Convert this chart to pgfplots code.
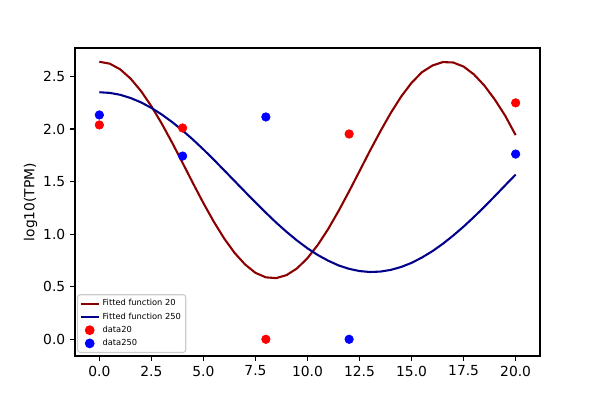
\documentclass[border=0pt]{standalone}
\usepackage{fontspec}
\setmainfont{DejaVu Sans}
\usepackage{pgfplots}
\pgfplotsset{compat=1.18}
\definecolor{fitred}{HTML}{8B0000}
\definecolor{fitblue}{HTML}{00008B}
\pgfplotsset{
  lineleg/.style={legend image code/.code={\draw[##1, draw opacity=1] (0bp,0bp) -- (13bp,0bp);}},
  dotleg/.style={legend image code/.code={\draw[##1, opacity=1, fill opacity=1, draw opacity=1] plot coordinates {(6.5bp,0bp)};}},
}
\begin{document}
\begin{tikzpicture}
\path[use as bounding box] (0,0) rectangle (432bp,288bp);
\begin{axis}[
  at={(54bp,31.68bp)}, anchor=south west,
  scale only axis, width=334.8bp, height=221.76bp,
  xmin=-1.17, xmax=21.17, ymin=-0.159, ymax=2.771,
  xtick={0,2.5,5,7.5,10,12.5,15,17.5,20},
  ytick={0,0.5,1,1.5,2,2.5},
  xticklabel style={/pgf/number format/.cd,fixed,fixed zerofill,precision=1},
  yticklabel style={/pgf/number format/.cd,fixed,fixed zerofill,precision=1},
  /pgf/number format/assume math mode=true,
  tick label style={font=\fontsize{10}{12}\selectfont},
  tick align=outside, xtick pos=lower, ytick pos=left,
  major tick length=3.5bp,
  every tick/.style={line width=0.8bp, black},
  axis line style={line width=0.8bp},
  ylabel={log10(TPM)},
  ylabel style={at={([xshift=-32bp]axis description cs:0,0.5)}, anchor=center, font=\fontsize{10}{12}\selectfont},
  legend cell align=left,
  legend style={at={(0.0043,0.0097)}, anchor=south west,
    font=\fontsize{6}{7.2}\selectfont, draw=black!20, rounded corners=2bp,
    fill=white, fill opacity=0.8, draw opacity=1, text opacity=1, inner sep=1.5bp,
    row sep=-0.5bp, line width=0.8bp},
]
\addplot[fitred, line width=1.5bp, lineleg] coordinates {
(0,2.640)(0.5,2.622)(1,2.568)(1.5,2.480)(2,2.362)(2.5,2.217)(3,2.051)(3.5,1.869)
(4,1.678)(4.5,1.484)(5,1.295)(5.5,1.118)(6,0.958)(6.5,0.821)(7,0.712)(7.5,0.632)
(8,0.589)(8.5,0.582)(9,0.611)(9.5,0.675)(10,0.772)(10.5,0.899)(11,1.051)(11.5,1.223)
(12,1.408)(12.5,1.600)(13,1.793)(13.5,1.978)(14,2.153)(14.5,2.309)(15,2.440)(15.5,2.541)
(16,2.604)(16.5,2.637)(17,2.633)(17.5,2.594)(18,2.519)(18.5,2.413)(19,2.280)(19.5,2.126)(20,1.942)
};
\addlegendentry{Fitted function 20}
\addplot[fitblue, line width=1.5bp, lineleg] coordinates {
(0,2.350)(0.5,2.344)(1,2.326)(1.5,2.295)(2,2.254)(2.5,2.201)(3,2.138)(3.5,2.066)
(4,1.986)(4.5,1.899)(5,1.806)(5.5,1.708)(6,1.607)(6.5,1.505)(7,1.403)(7.5,1.302)
(8,1.204)(8.5,1.109)(9,1.021)(9.5,0.939)(10,0.865)(10.5,0.801)(11,0.747)(11.5,0.702)
(12,0.670)(12.5,0.649)(13,0.640)(13.5,0.644)(14,0.660)(14.5,0.688)(15,0.727)(15.5,0.778)
(16,0.838)(16.5,0.908)(17,0.987)(17.5,1.072)(18,1.164)(18.5,1.261)(19,1.362)(19.5,1.465)(20,1.567)
};
\addlegendentry{Fitted function 250}
\addplot[only marks, mark=*, mark size=3.1bp, mark options={draw=red, fill=red}, dotleg] coordinates {
(0,2.039)(4,2.010)(8,0.0)(12,1.953)(20,2.249)
};
\addlegendentry{data20}
\addplot[only marks, mark=*, mark size=3.1bp, mark options={draw=blue, fill=blue}, dotleg] coordinates {
(0,2.134)(4,1.743)(8,2.115)(12,0.0)(20,1.762)
};
\addlegendentry{data250}
\end{axis}
\end{tikzpicture}
\end{document}
